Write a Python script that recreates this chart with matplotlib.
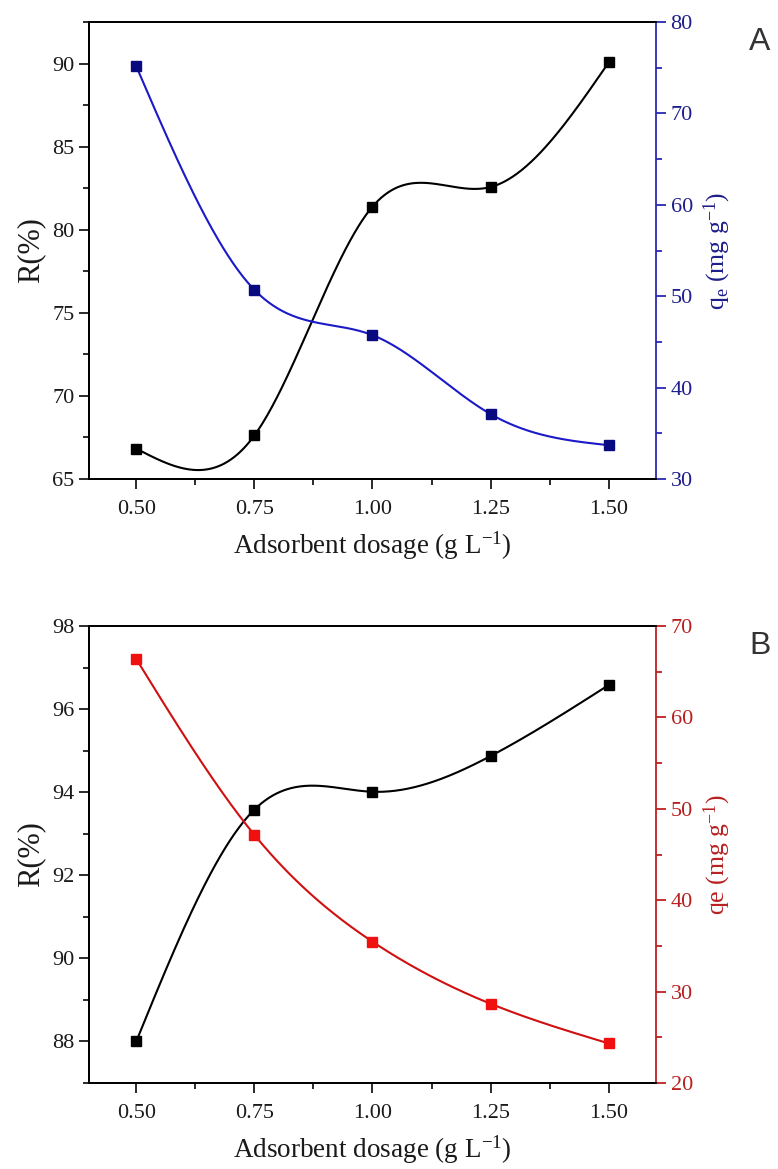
import numpy as np
import matplotlib
matplotlib.use("Agg")
import matplotlib.pyplot as plt
from matplotlib.ticker import MultipleLocator, FixedLocator

plt.rcParams['font.family'] = ['Liberation Serif', 'DejaVu Serif']
plt.rcParams['mathtext.fontset'] = 'custom'
plt.rcParams['mathtext.rm'] = 'Liberation Serif'
plt.rcParams['mathtext.it'] = 'Liberation Serif:italic'

# ---- data ----
dosage = [0.50, 0.75, 1.00, 1.25, 1.50]
R_A = [66.83, 67.62, 81.39, 82.57, 90.07]
qe_A = [75.16, 50.70, 45.74, 37.10, 33.70]
R_B = [88.00, 93.58, 94.01, 94.87, 96.58]
qe_B = [66.39, 47.15, 35.46, 28.67, 24.33]
xticks = [0.50, 0.75, 1.00, 1.25, 1.50]
xticklabels = ["0.50", "0.75", "1.00", "1.25", "1.50"]


def spline_curve(x, y, xs):
    """Natural cubic spline through the data points, for drawing the line."""
    x = np.asarray(x, float); y = np.asarray(y, float)
    n = len(x)
    h = np.diff(x)
    A = np.zeros((n, n)); b = np.zeros(n)
    A[0, 0] = 1; A[-1, -1] = 1
    for i in range(1, n - 1):
        A[i, i - 1] = h[i - 1]
        A[i, i] = 2 * (h[i - 1] + h[i])
        A[i, i + 1] = h[i]
        b[i] = 6 * ((y[i + 1] - y[i]) / h[i] - (y[i] - y[i - 1]) / h[i - 1])
    M = np.linalg.solve(A, b)
    out = np.empty_like(xs)
    for k, xv in enumerate(xs):
        i = min(max(np.searchsorted(x, xv) - 1, 0), n - 2)
        t1 = x[i + 1] - xv; t0 = xv - x[i]
        out[k] = (M[i] * t1 ** 3 + M[i + 1] * t0 ** 3) / (6 * h[i]) \
            + (y[i] / h[i] - M[i] * h[i] / 6) * t1 \
            + (y[i + 1] / h[i] - M[i + 1] * h[i] / 6) * t0
    return out


W, H = 778, 1169
fig = plt.figure(figsize=(W / 100, H / 100), dpi=100)

TICK_FS = 16
LAB_FS = 19.5


def panel(top_px, R, qe, left_lim, left_major, left_minor, right_lim,
          line_col, mark_col, axis_col, label_col, qlabel, letter):
    bottom_px = top_px + 457
    ax = fig.add_axes([89 / W, 1 - bottom_px / H, 567 / W, 457 / H])
    ax2 = ax.twinx()
    xs = np.linspace(dosage[0], dosage[-1], 300)
    ax.plot(xs, spline_curve(dosage, R, xs), color='black', lw=1.5, zorder=3)
    ax.plot(dosage, R, ls='none', marker='s', ms=6.5, color='black', zorder=4)
    ax2.plot(xs, spline_curve(dosage, qe, xs), color=line_col, lw=1.5)
    ax2.plot(dosage, qe, ls='none', marker='s', ms=6.5, color=mark_col)

    ax.set_xlim(0.4, 1.6)
    ax.set_ylim(*left_lim)
    ax2.set_ylim(*right_lim)
    ax.xaxis.set_major_locator(FixedLocator(xticks))
    ax.set_xticklabels(xticklabels)
    ax.xaxis.set_minor_locator(FixedLocator([0.625, 0.875, 1.125, 1.375]))
    ax.yaxis.set_major_locator(MultipleLocator(left_major))
    ax.yaxis.set_minor_locator(MultipleLocator(left_minor))
    ax2.yaxis.set_major_locator(MultipleLocator(10))
    ax2.yaxis.set_minor_locator(MultipleLocator(5))

    for a in (ax, ax2):
        for s in a.spines.values():
            s.set_linewidth(1.3)
    ax.tick_params(axis='both', which='both', direction='out', labelsize=TICK_FS,
                   width=1.3, colors='#1a1a1a', top=False, right=False)
    ax.tick_params(which='major', length=7)
    ax.tick_params(which='minor', length=4)
    ax.tick_params(axis='x', pad=8)
    ax2.spines['right'].set_color(axis_col)
    ax2.tick_params(axis='y', which='both', direction='out', labelsize=TICK_FS,
                    width=1.3, color=axis_col, labelcolor=label_col)
    ax2.tick_params(which='major', length=7)
    ax2.tick_params(which='minor', length=4)
    ax.spines['right'].set_visible(False)

    ax.set_xlabel(r'Adsorbent dosage (g L$^{\mathregular{-1}}$)', fontsize=LAB_FS,
                  color='#1a1a1a', labelpad=8)
    ax.set_ylabel('R(%)', fontsize=22, color='#1a1a1a', labelpad=5)
    ax2.set_ylabel(qlabel, fontsize=18.5, color=label_col, labelpad=6)

    fig.text(760 / W, 1 - (top_px + 20) / H, letter, fontsize=23,
             family='Liberation Sans', color='#333333', ha='center', va='center')
    return ax, ax2


panel(22, R_A, qe_A, (65, 92.5), 5, 2.5, (30, 80),
      '#1a1ac8', '#0a0a80', '#2a2ab4', '#1e1e8c',
      r'q$_{\mathregular{e}}$ (mg g$^{\mathregular{-1}}$)', 'A')
panel(626, R_B, qe_B, (87, 98), 2, 1, (20, 70),
      '#d01010', '#f01010', '#c02020', '#b82020',
      r'qe (mg g$^{\mathregular{-1}}$)', 'B')

fig.savefig('out.png', dpi=100)
